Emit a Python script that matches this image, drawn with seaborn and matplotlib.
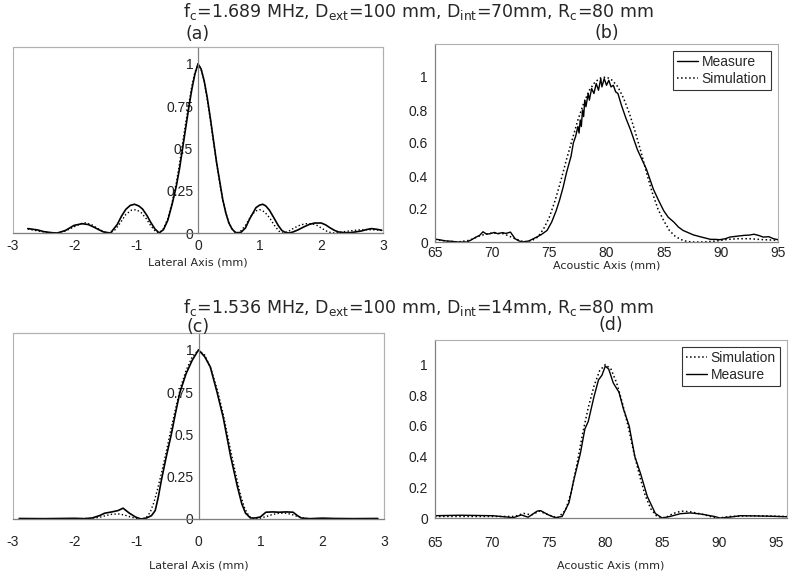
import matplotlib
matplotlib.use("Agg")
import matplotlib.pyplot as plt
import seaborn as sns

# --- data ---
# (a) lateral profile, fc = 1.689 MHz
a_x_meas = [-2.76, -2.6, -2.5, -2.38, -2.28, -2.15, -2.01, -1.88, -1.78, -1.69, -1.6, -1.53, -1.42,
            -1.31, -1.24, -1.17, -1.1, -1.03, -0.96, -0.9, -0.83, -0.77, -0.7, -0.63, -0.56, -0.49,
            -0.42, -0.35, -0.3, -0.25, -0.2, -0.15, -0.1, -0.05, 0.0, 0.05, 0.1, 0.15, 0.2, 0.25,
            0.3, 0.35, 0.4, 0.45, 0.5, 0.55, 0.6, 0.64, 0.7, 0.77, 0.84, 0.94, 1.0, 1.05, 1.1,
            1.16, 1.23, 1.3, 1.36, 1.41, 1.48, 1.54, 1.62, 1.71, 1.8, 1.89, 2.0, 2.07, 2.14, 2.21,
            2.28, 2.37, 2.46, 2.55, 2.65, 2.73, 2.81, 2.9, 2.98]
a_y_meas = [0.026, 0.018, 0.008, 0.002, 0.0, 0.015, 0.045, 0.055, 0.05, 0.035, 0.018, 0.006, 0.0,
            0.05, 0.1, 0.14, 0.163, 0.17, 0.16, 0.142, 0.105, 0.065, 0.025, 0.0, 0.02, 0.075,
            0.17, 0.28, 0.38, 0.5, 0.62, 0.74, 0.85, 0.94, 1.0, 0.97, 0.9, 0.8, 0.68, 0.55,
            0.42, 0.31, 0.2, 0.12, 0.06, 0.025, 0.005, 0.0, 0.005, 0.03, 0.085, 0.15, 0.165, 0.17, 0.16,
            0.134, 0.09, 0.045, 0.015, 0.004, 0.0, 0.006, 0.018, 0.035, 0.05, 0.059, 0.059, 0.048, 0.031, 0.016,
            0.006, 0.002, 0.002, 0.006, 0.012, 0.02, 0.026, 0.022, 0.016]
a_x_sim = [-2.76, -2.6, -2.45, -2.3, -2.15, -2.0, -1.9, -1.82, -1.72, -1.62, -1.52, -1.45, -1.36,
           -1.26, -1.17, -1.08, -1.0, -0.92, -0.84, -0.76, -0.69, -0.63, -0.56, -0.49, -0.42,
           -0.35, -0.3, -0.25, -0.2, -0.15, -0.1, -0.05, 0.0, 0.05, 0.1, 0.15, 0.2, 0.25, 0.3,
           0.35, 0.4, 0.45, 0.5, 0.56, 0.62, 0.69, 0.77, 0.86, 0.93, 1.0, 1.08, 1.16, 1.24, 1.31,
           1.37, 1.46, 1.56, 1.66, 1.76, 1.85, 1.93, 2.02, 2.1, 2.18, 2.3, 2.45, 2.6, 2.75, 2.9, 2.98]
a_y_sim = [0.024, 0.012, 0.004, 0.0, 0.012, 0.038, 0.055, 0.06, 0.048, 0.025, 0.006, 0.0, 0.012,
           0.06, 0.11, 0.135, 0.138, 0.12, 0.085, 0.04, 0.01, 0.0, 0.025, 0.085, 0.18,
           0.3, 0.41, 0.53, 0.65, 0.76, 0.87, 0.95, 1.0, 0.97, 0.9, 0.79, 0.67, 0.54, 0.42,
           0.3, 0.2, 0.12, 0.06, 0.02, 0.0, 0.01, 0.045, 0.1, 0.13, 0.138, 0.125, 0.09, 0.045, 0.012,
           0.0, 0.008, 0.03, 0.048, 0.055, 0.055, 0.045, 0.025, 0.008, 0.0, 0.004, 0.012, 0.018, 0.02, 0.018, 0.015]

# (b) axial profile, fc = 1.689 MHz
b_x_meas = [65.0, 65.5, 66.0, 66.5, 67.0, 67.8, 68.2, 68.6, 68.9, 69.2, 69.5, 69.8, 70.2, 70.5, 70.9,
            71.2, 71.6, 72.0, 72.3, 72.6, 73.2, 73.6, 73.9, 74.3, 74.8, 75.2, 75.6, 75.9, 76.2,
            76.5, 76.9, 77.1, 77.3, 77.5, 77.6, 77.7, 77.8, 77.9, 78.0, 78.1, 78.2, 78.4, 78.5,
            78.7, 78.9, 79.1, 79.3, 79.5, 79.6, 79.8, 80.0, 80.2, 80.4, 80.6, 80.8, 81.0, 81.3,
            81.7, 82.1, 82.4, 82.7, 83.1, 83.5, 83.8, 84.1, 84.5, 85.0, 85.4, 85.9, 86.3, 86.7,
            87.2, 87.6, 88.3, 89.1, 89.5, 89.9, 90.4, 90.8, 91.4, 92.0, 92.5, 92.9, 93.3, 93.7,
            94.2, 94.6, 95.0]
b_y_meas = [0.018, 0.012, 0.006, 0.004, 0.0, 0.0, 0.014, 0.03, 0.04, 0.062, 0.048, 0.05, 0.058, 0.05, 0.057,
            0.052, 0.06, 0.02, 0.008, 0.0, 0.006, 0.02, 0.03, 0.045, 0.07, 0.12, 0.19, 0.255, 0.33,
            0.42, 0.52, 0.6, 0.64, 0.7, 0.66, 0.74, 0.7, 0.8, 0.76, 0.86, 0.82, 0.9, 0.86,
            0.93, 0.9, 0.96, 0.92, 0.99, 0.94, 0.99, 0.95, 0.98, 0.94, 0.95, 0.91, 0.9, 0.83,
            0.75, 0.68, 0.62, 0.56, 0.5, 0.44, 0.38, 0.32, 0.26, 0.19, 0.15, 0.12, 0.09, 0.07,
            0.055, 0.043, 0.03, 0.016, 0.016, 0.014, 0.02, 0.03, 0.035, 0.04, 0.042, 0.047, 0.04, 0.03,
            0.032, 0.02, 0.014]
b_x_sim = [65.0, 66.0, 67.0, 68.0, 69.0, 70.0, 71.0, 72.0, 72.8, 73.5, 74.0, 74.5, 75.0, 75.5, 76.0,
           76.5, 77.0, 77.5, 78.0, 78.5, 79.0, 79.5, 80.0, 80.5, 81.0, 81.5, 82.0, 82.5, 83.0,
           83.5, 84.0, 84.5, 85.0, 85.5, 86.0, 86.5, 87.0, 87.5, 88.5, 89.5, 90.5, 91.5, 92.5,
           93.5, 95.0]
b_y_sim = [0.015, 0.005, 0.0, 0.01, 0.04, 0.055, 0.05, 0.02, 0.0, 0.01, 0.03, 0.08, 0.15, 0.25, 0.37,
           0.5, 0.62, 0.74, 0.84, 0.92, 0.97, 0.995, 1.0, 0.98, 0.94, 0.87, 0.78, 0.67, 0.55,
           0.42, 0.3, 0.2, 0.13, 0.07, 0.035, 0.015, 0.004, 0.0, 0.0, 0.005, 0.015, 0.02, 0.02,
           0.015, 0.01]

# (c) lateral profile, fc = 1.536 MHz
c_x_meas = [-2.9, -2.5, -2.0, -1.85, -1.72, -1.6, -1.52, -1.4, -1.3, -1.22, -1.12, -1.02, -0.93,
            -0.84, -0.76, -0.7, -0.65, -0.6, -0.52, -0.44, -0.37, -0.3, -0.2, -0.1, 0.0, 0.1,
            0.19, 0.3, 0.4, 0.52, 0.63, 0.7, 0.76, 0.84, 0.92, 1.0, 1.09, 1.2, 1.3, 1.42, 1.53,
            1.6, 1.66, 1.8, 2.0, 2.2, 2.5, 2.9]
c_y_meas = [0.003, 0.002, 0.004, 0.002, 0.006, 0.02, 0.034, 0.042, 0.05, 0.064, 0.035, 0.012, 0.0,
            0.006, 0.02, 0.05, 0.13, 0.23, 0.37, 0.5, 0.63, 0.75, 0.86, 0.94, 1.0, 0.96,
            0.9, 0.75, 0.6, 0.37, 0.19, 0.09, 0.035, 0.006, 0.006, 0.012, 0.04, 0.042, 0.04, 0.042, 0.04,
            0.02, 0.006, 0.002, 0.005, 0.003, 0.002, 0.003]
c_x_sim = [-2.9, -2.0, -1.75, -1.6, -1.5, -1.4, -1.3, -1.2, -1.1, -1.0, -0.92, -0.85, -0.78, -0.72,
           -0.66, -0.6, -0.52, -0.44, -0.36, -0.28, -0.2, -0.1, 0.0, 0.1, 0.2, 0.3, 0.4, 0.5, 0.6,
           0.68, 0.75, 0.82, 0.9, 1.0, 1.1, 1.2, 1.3, 1.4, 1.5, 1.6, 1.7, 1.8, 2.0, 2.9]
c_y_sim = [0.001, 0.002, 0.003, 0.01, 0.02, 0.028, 0.03, 0.024, 0.012, 0.003, 0.0, 0.006, 0.04, 0.1,
           0.18, 0.27, 0.4, 0.54, 0.67, 0.79, 0.88, 0.96, 1.0, 0.97, 0.89, 0.77, 0.62, 0.44, 0.27,
           0.14, 0.06, 0.015, 0.0, 0.005, 0.015, 0.027, 0.034, 0.035, 0.028, 0.015, 0.005, 0.0, 0.002, 0.002]

# (d) axial profile, fc = 1.536 MHz
d_x_meas = [65.0, 67.2, 70.1, 71.9, 72.6, 73.2, 74.0, 74.3, 75.0, 75.6, 76.2, 76.8, 77.2, 77.8,
            78.2, 78.5, 79.0, 79.4, 79.7, 80.0, 80.3, 80.7, 81.2, 81.6, 82.1, 82.6, 83.1, 83.7,
            84.4, 85.0, 85.7, 86.6, 87.5, 88.4, 89.6, 90.1, 91.0, 91.9, 94.3, 96.0]
d_y_meas = [0.015, 0.018, 0.015, 0.002, 0.02, 0.005, 0.045, 0.048, 0.02, 0.002, 0.01, 0.1, 0.24, 0.42,
            0.58, 0.63, 0.79, 0.9, 0.93, 0.99, 0.97, 0.88, 0.82, 0.71, 0.6, 0.4, 0.29, 0.14,
            0.03, 0.0, 0.01, 0.028, 0.033, 0.026, 0.01, 0.0, 0.006, 0.015, 0.012, 0.008]
d_x_sim = [65.0, 68.0, 72.0, 72.8, 73.5, 74.2, 75.0, 75.8, 76.5, 77.0, 77.5, 78.0, 78.5, 79.0, 79.5,
           80.0, 80.5, 81.0, 81.5, 82.0, 82.5, 83.0, 83.5, 84.0, 84.5, 85.0, 85.5, 86.0, 86.7,
           87.5, 88.5, 89.5, 90.0, 91.0, 93.0, 96.0]
d_y_sim = [0.01, 0.01, 0.01, 0.03, 0.02, 0.045, 0.02, 0.0, 0.05, 0.17, 0.35, 0.55, 0.72, 0.86, 0.96,
           1.0, 0.97, 0.88, 0.75, 0.6, 0.43, 0.28, 0.15, 0.06, 0.015, 0.0, 0.01, 0.03, 0.045,
           0.04, 0.025, 0.005, 0.0, 0.01, 0.015, 0.01]

title_top = "f$_c$=1.689 MHz, D$_{ext}$=100 mm, D$_{int}$=70mm, R$_c$=80 mm"
title_bottom = "f$_c$=1.536 MHz, D$_{ext}$=100 mm, D$_{int}$=14mm, R$_c$=80 mm"

sns.set_theme(style="white")
plt.rcParams["font.family"] = ["DejaVu Sans"]
plt.rcParams["mathtext.default"] = "regular"
plt.rcParams["axes.unicode_minus"] = False

W, H = 800, 578
fig = plt.figure(figsize=(8, 5.78), dpi=100)


def box(l, t, r, b):
    return [l / W, 1 - b / H, (r - l) / W, (b - t) / H]


ax_a = fig.add_axes(box(13, 47, 383, 233))
ax_b = fig.add_axes(box(435, 44, 778, 242))
ax_c = fig.add_axes(box(13, 333, 384, 519))
ax_d = fig.add_axes(box(435, 340, 787, 518))

frame_col = "#b0b0b0"
axis_col = "#808080"


def lateral_style(ax, tpad, lpad):
    ax.set_xlim(-3, 3)
    ax.set_ylim(0, 1.1)
    ax.set_xticks([-3, -2, -1, 0, 1, 2, 3])
    ax.set_xticklabels(["-3", "-2", "-1", "0", "1", "2", "3"])
    ax.set_yticks([0, 0.25, 0.5, 0.75, 1])
    ax.set_yticklabels(["0", "0.25", "0.5", "0.75", "1"])
    ax.spines["left"].set_position(("data", 0))
    for s in ["top", "right"]:
        ax.spines[s].set_color(frame_col)
        ax.spines[s].set_linewidth(0.8)
    for s in ["left", "bottom"]:
        ax.spines[s].set_color(axis_col)
        ax.spines[s].set_linewidth(0.9)
    ax.patch.set_edgecolor(frame_col)
    ax.patch.set_linewidth(0.8)
    ax.tick_params(axis="x", direction="inout", length=5, width=0.8, color=axis_col, pad=tpad)
    ax.tick_params(axis="y", direction="inout", length=5, width=0.8, color=axis_col, pad=1)
    ax.set_xlabel("Lateral Axis (mm)", fontsize=8, labelpad=lpad)


def axial_style(ax, xmax, ymax, tpad, lpad):
    ax.set_xlim(65, xmax)
    ax.set_ylim(0, ymax)
    ax.set_xticks([65, 70, 75, 80, 85, 90, 95])
    ax.set_yticks([0, 0.2, 0.4, 0.6, 0.8, 1])
    ax.set_yticklabels(["0", "0.2", "0.4", "0.6", "0.8", "1"])
    for s in ["top", "right"]:
        ax.spines[s].set_color(frame_col)
        ax.spines[s].set_linewidth(0.8)
    for s in ["left", "bottom"]:
        ax.spines[s].set_color(axis_col)
        ax.spines[s].set_linewidth(0.9)
    ax.tick_params(axis="x", direction="out", length=3, width=0.8, color=axis_col, pad=tpad)
    ax.tick_params(axis="y", direction="out", length=3, width=0.8, color=axis_col, pad=2)
    ax.set_xlabel("Acoustic Axis (mm)", fontsize=8, labelpad=lpad)


def add_legend(ax):
    leg = ax.legend(loc="upper right", frameon=True, fancybox=False,
                    prop={"family": "Liberation Sans", "size": 10}, handlelength=1.5,
                    handletextpad=0.3, borderpad=0.3, labelspacing=0.2, borderaxespad=0.5)
    leg.get_frame().set_edgecolor("black")
    leg.get_frame().set_linewidth(0.8)


for ax in [ax_a, ax_b, ax_c, ax_d]:
    ax.tick_params(labelsize=10, labelfontfamily="Liberation Sans", labelcolor="#222222")

# (a)
sns.lineplot(x=a_x_sim, y=a_y_sim, ax=ax_a, color="black", linestyle=":", linewidth=1.0)
sns.lineplot(x=a_x_meas, y=a_y_meas, ax=ax_a, color="black", linewidth=1.2)
lateral_style(ax_a, 2, 3)
ax_a.set_title("(a)", fontsize=12.5, pad=6)

# (b)
sns.lineplot(x=b_x_meas, y=b_y_meas, ax=ax_b, color="black", linewidth=1.0, label="Measure")
sns.lineplot(x=b_x_sim, y=b_y_sim, ax=ax_b, color="black", linestyle=":", linewidth=1.1, label="Simulation")
axial_style(ax_b, 95, 1.2, 0, 0)
ax_b.set_title("(b)", fontsize=12.5, pad=4.5)
add_legend(ax_b)

# (c)
sns.lineplot(x=c_x_sim, y=c_y_sim, ax=ax_c, color="black", linestyle=":", linewidth=1.0)
sns.lineplot(x=c_x_meas, y=c_y_meas, ax=ax_c, color="black", linewidth=1.2)
lateral_style(ax_c, 9, 8)
ax_c.set_title("(c)", fontsize=12.5, pad=1)

# (d)
sns.lineplot(x=d_x_sim, y=d_y_sim, ax=ax_d, color="black", linestyle=":", linewidth=1.1, label="Simulation")
sns.lineplot(x=d_x_meas, y=d_y_meas, ax=ax_d, color="black", linewidth=1.0, label="Measure")
axial_style(ax_d, 96, 1.16, 10, 7.5)
ax_d.set_title("(d)", fontsize=12.5, pad=7)
add_legend(ax_d)

fig.text(0.523, 1 - 12 / H, title_top, ha="center", va="center", fontsize=12.5)
fig.text(0.523, 1 - 307 / H, title_bottom, ha="center", va="center", fontsize=12.5)

fig.savefig("out.png", dpi=100)
